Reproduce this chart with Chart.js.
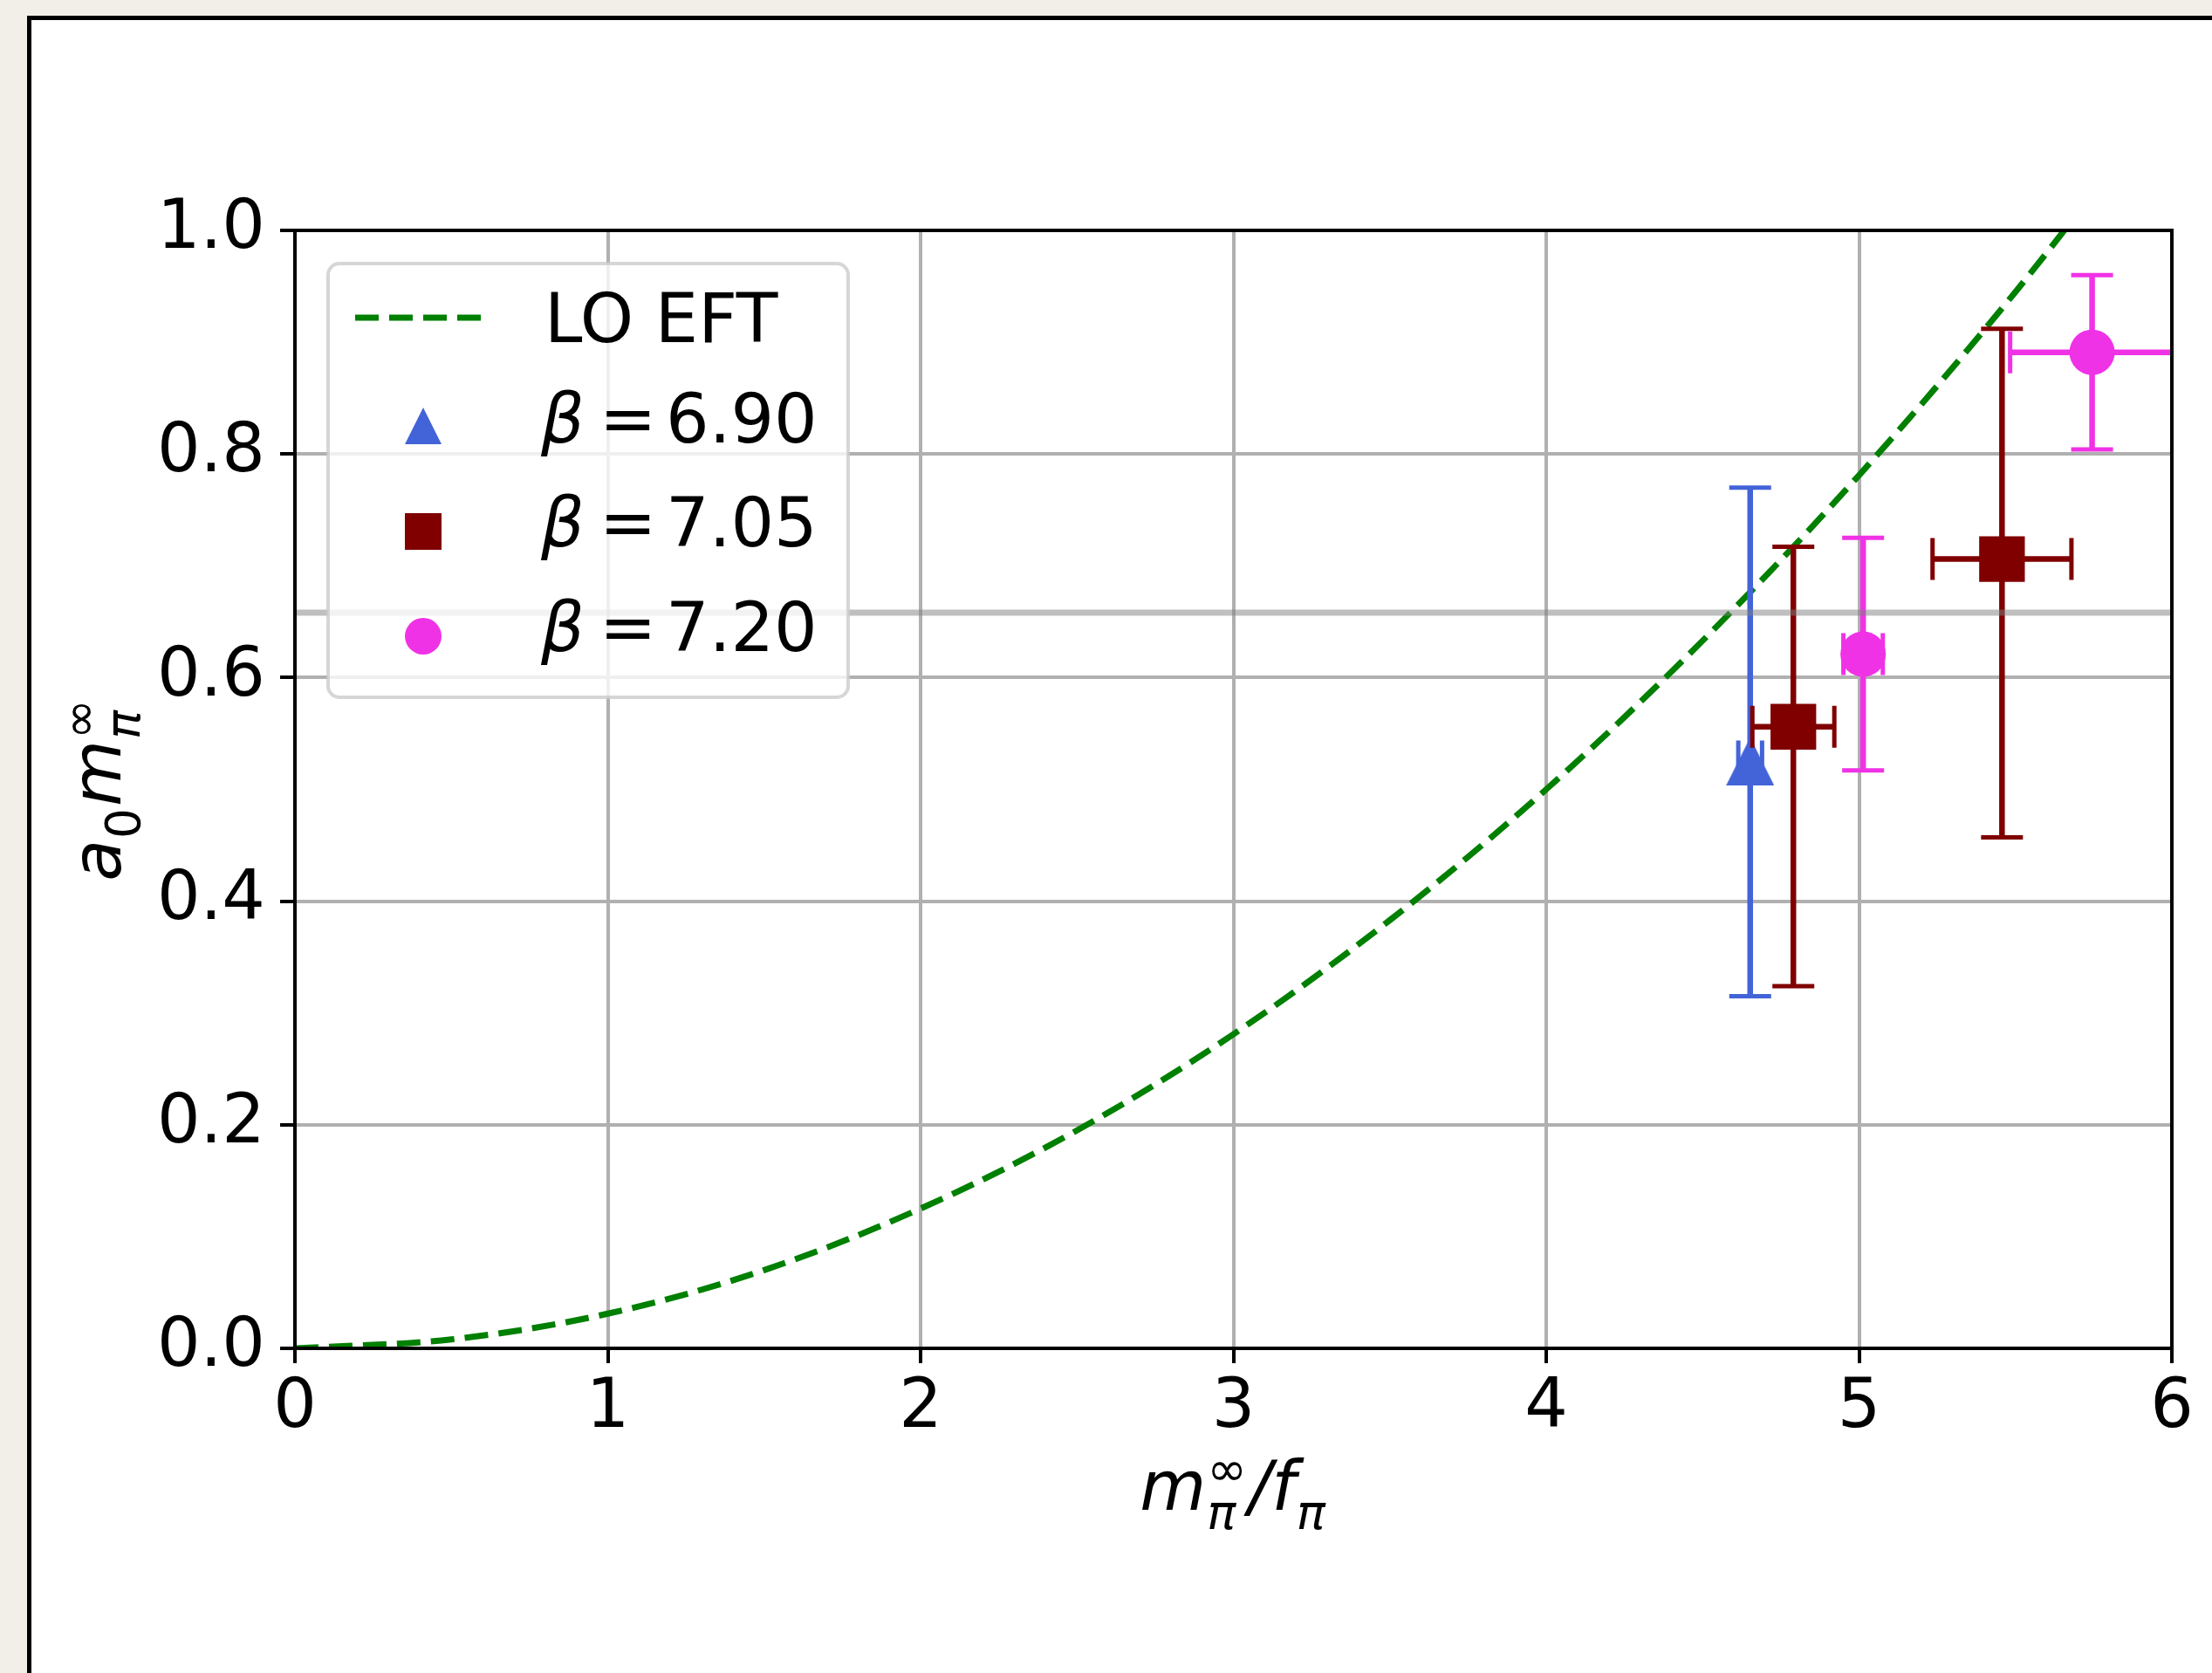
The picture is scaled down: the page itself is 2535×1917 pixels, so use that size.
<!DOCTYPE html>
<html>
<head>
<meta charset="utf-8">
<script src="https://cdn.jsdelivr.net/npm/chart.js"></script>
<style>
  html, body { margin: 0; padding: 0; overflow: hidden; }
  body { width: 2535px; height: 1917px; background: #f2efe8; position: relative; }
  .card { position: absolute; left: 31px; top: 18px; width: 2600px; height: 2000px; background: #fff;
          border-left: 5px solid #000; border-top: 5px solid #000; }
  #chart { position: absolute; left: 0; top: 0; }
</style>
</head>
<body>
<div class="card"></div>
<canvas id="chart" width="2535" height="1917"></canvas>
<script>
// LO EFT curve
const eftX = [0, 0.5, 1, 1.5, 2, 2.5, 3, 3.5, 4, 4.5, 5, 5.5, 6];
const eftY = [0, 0.008, 0.031, 0.070, 0.125, 0.195, 0.281, 0.383, 0.500, 0.633, 0.781, 0.945, 1.125];

// lattice points: value, lower / upper y error, x error
const b690X = [4.652];
const b690Y = [0.525];
const b690Lo = [0.210];
const b690Hi = [0.245];
const b690Xe = [0.038];

const b705X = [4.790, 5.457];
const b705Y = [0.556, 0.706];
const b705Lo = [0.232, 0.249];
const b705Hi = [0.161, 0.206];
const b705Xe = [0.131, 0.222];

const b720X = [5.013, 5.745];
const b720Y = [0.621, 0.891];
const b720Lo = [0.104, 0.087];
const b720Hi = [0.104, 0.069];
const b720Xe = [0.063, 0.262];

const refY = 0.658;   // grey horizontal line
const refX = [0, 6];

const xTicks = [0, 1, 2, 3, 4, 5, 6];
const yTicks = [0.0, 0.2, 0.4, 0.6, 0.8, 1.0];

const BLUE = '#4363d8', MAROON = '#800000', MAGENTA = '#f032e6', GREEN = '#008000';
const FONT = '"DejaVu Sans", "Liberation Sans", sans-serif';

function pts(xs, ys) { return xs.map((v, i) => ({ x: v, y: ys[i] })); }

function triangle(size, color) {
  const c = document.createElement('canvas');
  c.width = c.height = size;
  const g = c.getContext('2d');
  g.fillStyle = color;
  g.beginPath();
  g.moveTo(size / 2, 0);
  g.lineTo(size, size);
  g.lineTo(0, size);
  g.closePath();
  g.fill();
  return c;
}

// error bars go under each dataset's markers
const errorBars = {
  id: 'errorBars',
  beforeDatasetDraw(chart, args) {
    const ds = chart.data.datasets[args.index];
    if (!ds.errLo) return;
    const { ctx, chartArea: a, scales: { x, y } } = chart;
    ctx.save();
    ctx.beginPath();
    ctx.rect(a.left, a.top, a.right - a.left, a.bottom - a.top);
    ctx.clip();
    ctx.strokeStyle = ds.backgroundColor === 'transparent' ? ds.borderColor : ds.errColor;
    ds.data.forEach((p, i) => {
      const px = x.getPixelForValue(p.x), py = y.getPixelForValue(p.y);
      const top = y.getPixelForValue(p.y + ds.errHi[i]);
      const bot = y.getPixelForValue(p.y - ds.errLo[i]);
      const l = x.getPixelForValue(p.x - ds.errX[i]);
      const r = x.getPixelForValue(p.x + ds.errX[i]);
      ctx.lineWidth = 6.5;
      ctx.beginPath();
      ctx.moveTo(px, top); ctx.lineTo(px, bot);
      ctx.moveTo(l, py); ctx.lineTo(r, py);
      ctx.stroke();
      ctx.lineWidth = 5;
      ctx.beginPath();
      ctx.moveTo(px - 24, top); ctx.lineTo(px + 24, top);
      ctx.moveTo(px - 24, bot); ctx.lineTo(px + 24, bot);
      ctx.moveTo(l, py - 24); ctx.lineTo(l, py + 24);
      ctx.moveTo(r, py - 24); ctx.lineTo(r, py + 24);
      ctx.stroke();
    });
    ctx.restore();
  }
};

const spines = {
  id: 'spines',
  afterDatasetsDraw(chart) {
    const { ctx, chartArea: a } = chart;
    ctx.save();
    ctx.strokeStyle = '#000';
    ctx.lineWidth = 4;
    ctx.strokeRect(a.left, a.top, a.right - a.left, a.bottom - a.top);
    ctx.restore();
  }
};

// small mathtext-like writer: runs of text, sub/superscripts
function runWidth(ctx, r) {
  if (r.t) { ctx.font = (r.it ? 'italic ' : '') + '78px ' + FONT; return ctx.measureText(r.t).width; }
  let w = 0;
  ctx.font = 'italic 55px ' + FONT;
  if (r.sup) w = Math.max(w, ctx.measureText(r.sup).width);
  if (r.sub) w = Math.max(w, ctx.measureText(r.sub).width);
  return w + 3;
}
function drawMath(ctx, runs, cx, baseline) {
  const total = runs.reduce((s, r) => s + runWidth(ctx, r), 0);
  let x = cx - total / 2;
  ctx.textAlign = 'left';
  ctx.textBaseline = 'alphabetic';
  runs.forEach(r => {
    const w = runWidth(ctx, r);
    if (r.t) {
      ctx.font = (r.it ? 'italic ' : '') + '78px ' + FONT;
      ctx.fillText(r.t, x, baseline);
    } else {
      if (r.sup) { ctx.font = '55px ' + FONT; ctx.fillText(r.sup, x + 1, baseline - 28); }
      if (r.sub) { ctx.font = (r.subUp ? '' : 'italic ') + '55px ' + FONT; ctx.fillText(r.sub, x + 1, baseline + 22); }
    }
    x += w;
  });
}

const axisTitles = {
  id: 'axisTitles',
  afterDraw(chart) {
    const { ctx, chartArea: a } = chart;
    ctx.save();
    ctx.fillStyle = '#000';
    drawMath(ctx, [{ t: 'm', it: true }, { sup: '\u221e', sub: '\u03c0' }, { t: '/', it: true },
                   { t: 'f', it: true }, { sub: '\u03c0' }], (a.left + a.right) / 2, 1730);
    ctx.translate(138, (a.top + a.bottom) / 2);
    ctx.rotate(-Math.PI / 2);
    drawMath(ctx, [{ t: 'a', it: true }, { sub: '0', subUp: true }, { t: 'm', it: true },
                   { sup: '\u221e', sub: '\u03c0' }], 0, 0);
    ctx.restore();
  }
};

const legendBox = {
  id: 'legendBox',
  afterDraw(chart) {
    const ctx = chart.ctx;
    const L = 376, T = 302, R = 972, B = 799, rad = 13;
    ctx.save();
    ctx.beginPath();
    ctx.moveTo(L + rad, T);
    ctx.arcTo(R, T, R, B, rad);
    ctx.arcTo(R, B, L, B, rad);
    ctx.arcTo(L, B, L, T, rad);
    ctx.arcTo(L, T, R, T, rad);
    ctx.closePath();
    ctx.fillStyle = 'rgba(255,255,255,0.8)';
    ctx.fill();
    ctx.strokeStyle = 'rgba(204,204,204,0.8)';
    ctx.lineWidth = 4;
    ctx.stroke();

    const ds = chart.data.datasets;
    // LO EFT
    ctx.strokeStyle = GREEN;
    ctx.lineWidth = 7;
    ctx.setLineDash([27, 12]);
    ctx.beginPath(); ctx.moveTo(407, 364); ctx.lineTo(563, 364); ctx.stroke();
    ctx.setLineDash([]);
    ctx.fillStyle = '#000';
    ctx.textAlign = 'left';
    ctx.textBaseline = 'alphabetic';
    ctx.font = '78px ' + FONT;
    ctx.fillText(ds[0].label, 624, 392);

    const rows = [
      { d: ds[1], y: 488, base: 507, mark: 'tri' },
      { d: ds[2], y: 609, base: 626, mark: 'sq' },
      { d: ds[3], y: 729, base: 746, mark: 'dot' }
    ];
    rows.forEach(r => {
      const c = r.d.pointBackgroundColor;
      ctx.fillStyle = c;
      if (r.mark === 'tri') ctx.drawImage(triangle(42, c), 464, r.y - 21);
      if (r.mark === 'sq') ctx.fillRect(464, r.y - 21, 42, 42);
      if (r.mark === 'dot') { ctx.beginPath(); ctx.arc(485, r.y, 21, 0, Math.PI * 2); ctx.fill(); }
      const parts = r.d.label.split(' = ');
      ctx.fillStyle = '#000';
      ctx.font = 'italic 78px ' + FONT;
      ctx.fillText(parts[0], 620, r.base);
      ctx.font = '78px ' + FONT;
      ctx.fillText('=', 687, r.base);
      ctx.fillText(parts[1], 763, r.base);
    });
    ctx.restore();
  }
};

new Chart(document.getElementById('chart'), {
  type: 'scatter',
  data: {
    datasets: [
      {
        label: 'LO EFT',
        data: pts(eftX, eftY),
        showLine: true,
        borderColor: GREEN,
        backgroundColor: 'transparent',
        borderWidth: 7,
        borderDash: [27, 12],
        pointRadius: 0,
        cubicInterpolationMode: 'monotone',
        clip: 0,
        order: 5
      },
      {
        label: '\u03b2 = 6.90',
        data: pts(b690X, b690Y),
        errLo: b690Lo, errHi: b690Hi, errX: b690Xe, errColor: BLUE,
        pointStyle: triangle(55, BLUE),
        pointBackgroundColor: BLUE,
        order: 4
      },
      {
        label: '\u03b2 = 7.05',
        data: pts(b705X, b705Y),
        errLo: b705Lo, errHi: b705Hi, errX: b705Xe, errColor: MAROON,
        pointStyle: 'rect',
        pointRadius: 37,
        pointBorderWidth: 0,
        pointBackgroundColor: MAROON,
        order: 3
      },
      {
        label: '\u03b2 = 7.20',
        data: pts(b720X, b720Y),
        errLo: b720Lo, errHi: b720Hi, errX: b720Xe, errColor: MAGENTA,
        pointStyle: 'circle',
        pointRadius: 26,
        pointBorderWidth: 0,
        pointBackgroundColor: MAGENTA,
        order: 2
      },
      {
        label: 'ref',
        data: refX.map(v => ({ x: v, y: refY })),
        showLine: true,
        borderColor: 'rgba(128,128,128,0.5)',
        borderWidth: 7,
        pointRadius: 0,
        clip: 0,
        order: 1
      }
    ]
  },
  options: {
    responsive: false,
    animation: false,
    events: [],
    layout: { padding: { left: 0, top: 264, right: 46, bottom: 0 } },
    plugins: { legend: { display: false }, tooltip: { enabled: false } },
    scales: {
      x: {
        type: 'linear',
        min: 0,
        max: 6,
        afterBuildTicks: s => { s.ticks = xTicks.map(v => ({ value: v })); },
        afterFit: s => { s.height = 372; },
        ticks: { callback: v => String(v), color: '#000', font: { family: FONT, size: 78 }, padding: 6, maxRotation: 0 },
        grid: { color: '#b0b0b0', lineWidth: 4, tickColor: '#000', tickWidth: 4, tickLength: 17 },
        border: { display: false }
      },
      y: {
        type: 'linear',
        min: 0,
        max: 1,
        afterBuildTicks: s => { s.ticks = yTicks.map(v => ({ value: v })); },
        afterFit: s => { s.width = 338; },
        ticks: { callback: v => v.toFixed(1), color: '#000', font: { family: FONT, size: 78 }, padding: 17 },
        grid: { color: '#b0b0b0', lineWidth: 4, tickColor: '#000', tickWidth: 4, tickLength: 17 },
        border: { display: false }
      }
    }
  },
  plugins: [errorBars, spines, axisTitles, legendBox]
});
</script>
</body>
</html>
